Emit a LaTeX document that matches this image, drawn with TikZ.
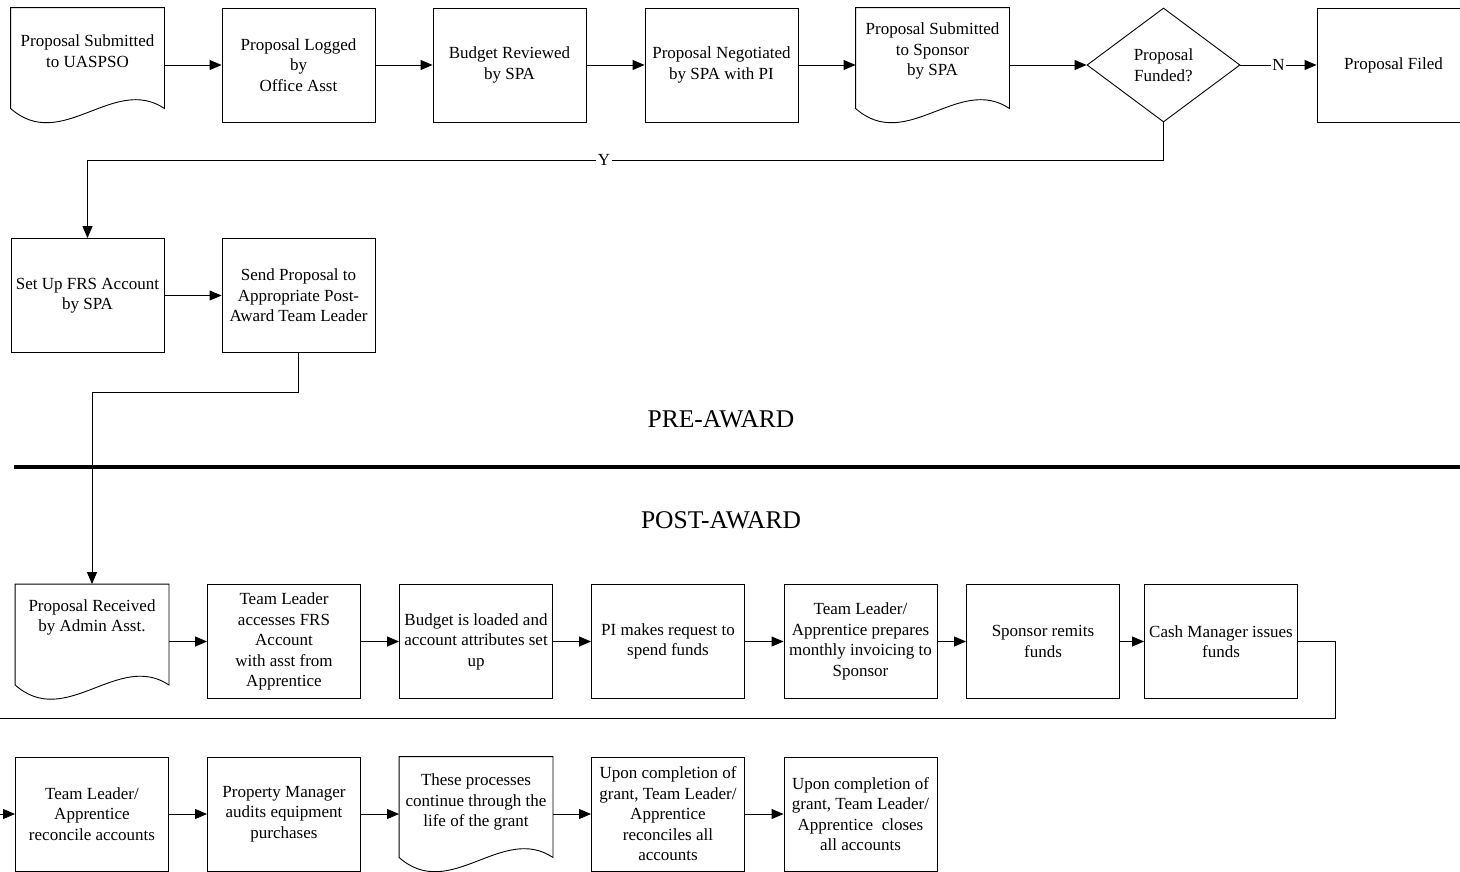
\documentclass[tikz,border=0pt]{standalone}
\usepackage{fontspec}
\setmainfont{Liberation Serif}
\usetikzlibrary{shapes, arrows.meta, positioning, calc}

% document outline with wavy bottom
\newcommand{\drawdoc}[1]{%
  \draw (#1.north west) -- (#1.north east) -- ($(#1.south east)+(0,-14)$)
    .. controls ($(#1.south east)+(-51,-48)$) and ($(#1.south west)+(51,31)$)
    .. ($(#1.south west)+(0,-14)$) -- cycle;}

\begin{document}
\begin{tikzpicture}[x=1pt, y=-1pt, font=\fontsize{17}{20.5}\selectfont,
    line width=0.9pt, >={Triangle[length=12pt,width=10pt]},
    proc/.style={draw, rectangle, minimum width=153pt, minimum height=114pt,
        align=center, inner sep=2pt},
    doc/.style={proc, draw=none},
    doctext/.style={align=center, yshift=14pt},
    decide/.style={draw, diamond, minimum width=153pt, minimum height=114pt,
        align=center, inner sep=0pt},
    tag/.style={fill=white, inner sep=1.5pt},
    title/.style={font=\fontsize{25.5}{30}\selectfont}]
\useasboundingbox (0,0) rectangle (1460,871);

% Pre-award row
\node[doc, label={[doctext]center:Proposal Submitted\\to UASPSO}] (submit) at (87.5,65) {};
\node[proc] (logged) at (298.5,65) {Proposal Logged\\by\\Office Asst};
\node[proc] (budget) at (509.5,65) {Budget Reviewed\\by SPA};
\node[proc] (negot) at (721.5,65) {Proposal Negotiated\\by SPA with PI};
\node[doc, label={[doctext]center:Proposal Submitted\\to Sponsor\\by SPA}] (sponsor) at (932.5,65) {};
\node[decide] (funded) at (1163.5,65) {Proposal\\Funded?};
\node[proc] (filed) at (1393.5,65) {Proposal Filed};
\drawdoc{submit}
\drawdoc{sponsor}

\draw[->] (submit) -- (logged);
\draw[->] (logged) -- (budget);
\draw[->] (budget) -- (negot);
\draw[->] (negot) -- (sponsor);
\draw[->] (sponsor) -- (funded);
\draw[->] (funded) -- node[tag] {N} (filed);

% Funded branch
\node[proc] (setup) at (87.5,295.5) {Set Up FRS Account\\by SPA};
\node[proc] (send) at (298.5,295.5) {Send Proposal to\\Appropriate Post-\\Award Team Leader};
\coordinate (ybend) at (87.5,160);
\draw[->] (funded.south) |- node[tag, pos=0.76] {Y} (ybend) -- (setup.north);
\draw[->] (setup) -- (send);

% Divider
\node[title] (pre) at (721,419) {PRE-AWARD};
\draw[line width=4.5pt] (14,467) -- (1460,467);
\node[title] (post) at (721,520) {POST-AWARD};

% Post-award row
\node[doc, label={[doctext, yshift=10pt]center:Proposal Received\\by Admin Asst.}] (recv) at (92,641.5) {};
\node[proc] (access) at (284,641.5) {Team Leader\\accesses FRS\\Account\\with asst from\\Apprentice};
\node[proc] (load) at (476,641.5) {Budget is loaded and\\account attributes set\\up};
\node[proc] (request) at (668,641.5) {PI makes request to\\spend funds};
\node[proc] (invoice) at (860.5,641.5) {Team Leader/\\Apprentice prepares\\monthly invoicing to\\Sponsor};
\node[proc] (remit) at (1043,641.5) {Sponsor remits\\funds};
\node[proc] (cash) at (1221,641.5) {Cash Manager issues\\funds};
\drawdoc{recv}

\draw[->] (send.south) -- ++(0,39) -| (recv.north);
\draw[->] (recv) -- (access);
\draw[->] (access) -- (load);
\draw[->] (load) -- (request);
\draw[->] (request) -- (invoice);
\draw[->] (invoice) -- (remit);
\draw[->] (remit) -- (cash);

% Close-out row
\node[proc] (recon) at (92,814) {Team Leader/\\Apprentice\\reconcile accounts};
\node[proc] (audit) at (284,814) {Property Manager\\audits equipment\\purchases};
\node[doc, label={[doctext, yshift=-2pt]center:These processes\\continue through the\\life of the grant}] (cont) at (476,814) {};
\node[proc] (reconall) at (668,814) {Upon completion of\\grant, Team Leader/\\Apprentice\\reconciles all\\accounts};
\node[proc] (close) at (860.5,814) {Upon completion of\\grant, Team Leader/\\Apprentice\ \ closes\\all accounts};
\drawdoc{cont}

\coordinate (wrapR) at (1335,718);
\coordinate (wrapL) at (-10,718);
\coordinate (wrapIn) at (-10,814);
\draw[->] (cash.east) -| (wrapR) -- (wrapL) -- (wrapIn) -- (recon.west);
\draw[->] (recon) -- (audit);
\draw[->] (audit) -- (cont);
\draw[->] (cont) -- (reconall);
\draw[->] (reconall) -- (close);
\end{tikzpicture}
\end{document}
